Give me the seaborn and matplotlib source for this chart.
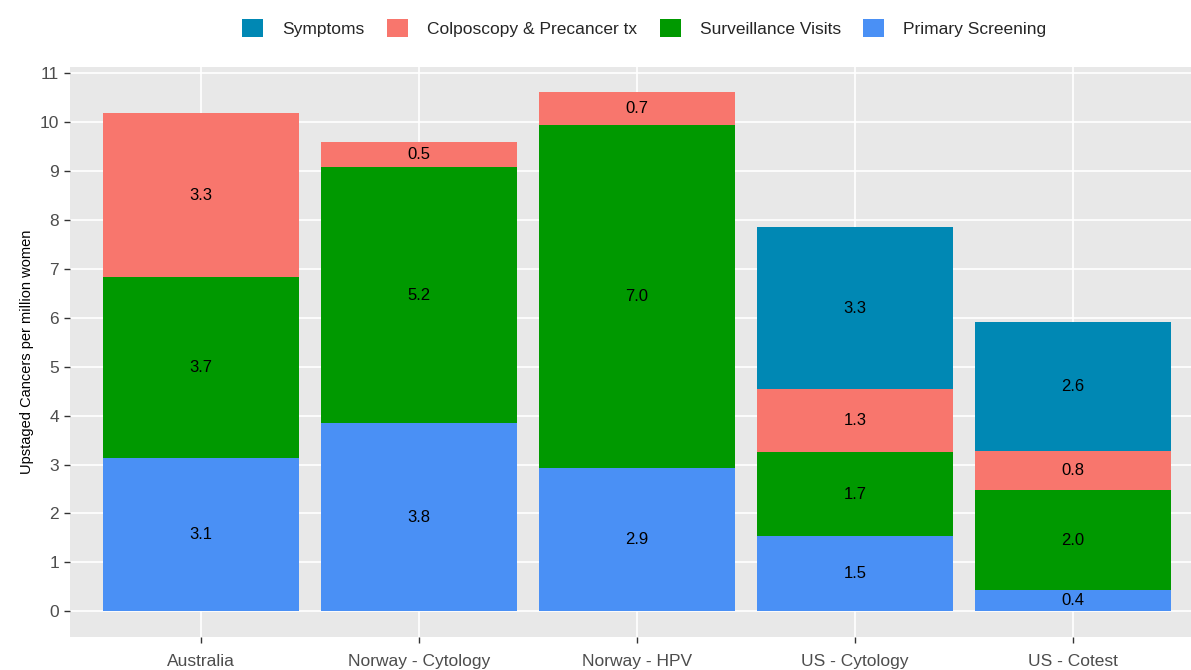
import matplotlib
matplotlib.use("Agg")
import matplotlib.pyplot as plt
import matplotlib.patches as mpatches
import seaborn as sns
import pandas as pd
import numpy as np

categories = ["Australia", "Norway - Cytology", "Norway - HPV", "US - Cytology", "US - Cotest"]
primary_screening = [3.14, 3.84, 2.93, 1.54, 0.43]
surveillance_visits = [3.70, 5.25, 7.02, 1.71, 2.04]
colposcopy = [3.34, 0.50, 0.66, 1.30, 0.81]
symptoms = [0.0, 0.0, 0.0, 3.30, 2.64]

series_names = ["Primary Screening", "Surveillance Visits", "Colposcopy & Precancer tx", "Symptoms"]
series_values = [primary_screening, surveillance_visits, colposcopy, symptoms]
colors = {"Symptoms": "#0088B4", "Colposcopy & Precancer tx": "#F8766D",
          "Surveillance Visits": "#009900", "Primary Screening": "#4A90F5"}

sns.set_theme(style="darkgrid", rc={"axes.facecolor": "#E8E8E8", "grid.color": "white",
                                    "grid.linewidth": 1.2})
plt.rcParams['font.family'] = ['Liberation Sans', 'DejaVu Sans']

fig = plt.figure(figsize=(11.91, 6.70), dpi=100)
ax = fig.add_axes([0.0588, 0.049, 0.952, 0.851])

vals = np.array(series_values)
cum = np.cumsum(vals, axis=0)

# draw cumulative layers from top to bottom so each overlays the previous
for i in range(len(series_names) - 1, -1, -1):
    df = pd.DataFrame({"cat": categories, "val": cum[i]})
    sns.barplot(data=df, x="cat", y="val", order=categories, color=colors[series_names[i]],
                saturation=1, width=0.9, ax=ax, edgecolor="none", linewidth=0, errorbar=None)

for i in range(len(series_names)):
    for j in range(len(categories)):
        v = vals[i, j]
        if v > 0:
            mid = cum[i, j] - v / 2
            ax.text(j, mid, f"{v:.1f}", ha="center", va="center", fontsize=12, color="black")

ax.set_xlim(-0.6, 4.6)
ax.set_ylim(-0.53, 11.13)
ax.set_yticks(range(0, 12))
ax.set_xlabel("")
ax.set_ylabel("Upstaged Cancers per million women", fontsize=10.5, color="black")
ax.tick_params(axis="both", which="both", length=4, width=1, color="#333333",
               labelcolor="#4D4D4D", labelsize=12.5, bottom=True, left=True)
ax.tick_params(axis="x", pad=8)
ax.tick_params(axis="y", pad=4)
ax.grid(True, which="major", color="white", linewidth=1.2)
ax.set_axisbelow(True)
for s in ax.spines.values():
    s.set_visible(False)

handles = [mpatches.Patch(facecolor=colors[n], edgecolor="none", label=n)
           for n in ["Symptoms", "Colposcopy & Precancer tx", "Surveillance Visits", "Primary Screening"]]
fig.legend(handles=handles, loc="center", bbox_to_anchor=(0.541, 0.958), ncol=4, frameon=False,
           fontsize=12.5, handlelength=1.2, handleheight=1.2, columnspacing=1.3, handletextpad=1.1)

fig.savefig("out.png", dpi=100)
